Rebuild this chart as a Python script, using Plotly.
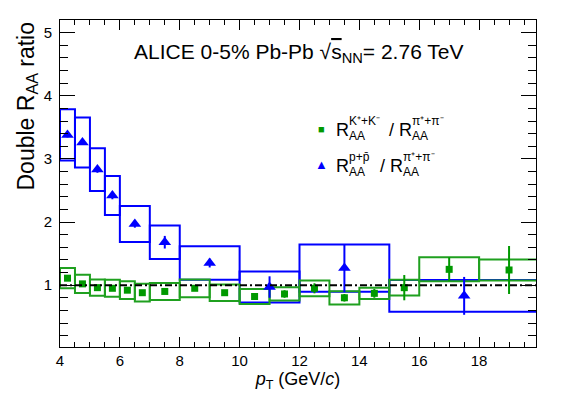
import plotly.graph_objects as go

# K/pi double R_AA ratio
k_pt = [4.25, 4.75, 5.25, 5.75, 6.25, 6.75, 7.5, 8.5, 9.5, 10.5, 11.5, 12.5, 13.5, 14.5, 15.5, 17, 19]
k_lo = [4, 4.5, 5, 5.5, 6, 6.5, 7, 8, 9, 10, 11, 12, 13, 14, 15, 16, 18]
k_hi = [4.5, 5, 5.5, 6, 6.5, 7, 8, 9, 10, 11, 12, 13, 14, 15, 16, 18, 20]
k_val = [1.11, 1.02, 0.96, 0.95, 0.92, 0.88, 0.90, 0.95, 0.88, 0.82, 0.86, 0.95, 0.80, 0.87, 0.96, 1.25, 1.24]
k_stat = [0.02, 0.02, 0.02, 0.02, 0.02, 0.02, 0.03, 0.03, 0.03, 0.04, 0.06, 0.08, 0.06, 0.07, 0.2, 0.19, 0.38]
k_sys = [0.16, 0.145, 0.13, 0.135, 0.14, 0.14, 0.135, 0.14, 0.13, 0.12, 0.105, 0.125, 0.105, 0.09, 0.125, 0.19, 0.165]

# p/pi double R_AA ratio
p_pt = [4.25, 4.75, 5.25, 5.75, 6.5, 7.5, 9, 11, 13.5, 17.5]
p_lo = [4, 4.5, 5, 5.5, 6, 7, 8, 10, 12, 15]
p_hi = [4.5, 5, 5.5, 6, 7, 8, 10, 12, 15, 20]
p_val = [3.38, 3.26, 2.83, 2.42, 1.97, 1.68, 1.35, 0.97, 1.27, 0.83]
p_stat = [0.04, 0.04, 0.05, 0.06, 0.06, 0.1, 0.07, 0.17, 0.38, 0.3]
p_sys = [0.405, 0.395, 0.34, 0.31, 0.285, 0.265, 0.265, 0.245, 0.375, 0.25]

x_ticks = [4, 6, 8, 10, 12, 14, 16, 18]
y_ticks = [1, 2, 3, 4, 5]

BLUE = "#0000ff"
GREEN = "#009900"
GREEN_BOX = "#1fa01f"
FONT = "Liberation Sans, Arial, sans-serif"

W, H = 581, 396
OFF = 8  # page body margin
L, R, T, B = 52, 53, 12, 57


def px(x, y):
    # on-screen pixel position -> paper coordinates
    x, y = x - OFF, y - OFF
    return (x - L) / (W - L - R), (H - B - y) / (H - T - B)


fig = go.Figure()

for lo, hi, v, s in zip(p_lo, p_hi, p_val, p_sys):
    fig.add_shape(type="rect", xref="x", yref="y", x0=lo, x1=hi, y0=v - s, y1=v + s,
                  line=dict(color=BLUE, width=2), layer="below")
for lo, hi, v, s in zip(k_lo, k_hi, k_val, k_sys):
    fig.add_shape(type="rect", xref="x", yref="y", x0=lo, x1=hi, y0=v - s, y1=v + s,
                  line=dict(color=GREEN_BOX, width=2), layer="below")

fig.add_trace(go.Scatter(x=p_pt, y=p_val, mode="markers",
                         marker=dict(symbol="triangle-up", size=11, color=BLUE),
                         error_y=dict(type="data", array=p_stat, color=BLUE, thickness=2, width=0),
                         showlegend=False))
fig.add_trace(go.Scatter(x=k_pt, y=k_val, mode="markers",
                         marker=dict(symbol="square", size=7, color=GREEN),
                         error_y=dict(type="data", array=k_stat, color=GREEN, thickness=2, width=0),
                         showlegend=False))

# unity reference line
fig.add_shape(type="line", xref="paper", yref="y", x0=0, x1=1, y0=1, y1=1,
              line=dict(color="black", width=2, dash="7px,3px,2px,3px"), layer="above")

annotations = []


def add_text(x, y, text, size, xanchor="left", color="black"):
    xp, yp = px(x, y)
    annotations.append(dict(x=xp, y=yp, xref="paper", yref="paper", text=text, showarrow=False,
                            xanchor=xanchor, yanchor="middle", font=dict(size=size, color=color, family=FONT)))


add_text(298, 53, "ALICE 0-5% Pb-Pb √<span style='text-decoration:overline'>s</span><sub>NN</sub>= 2.76 TeV",
         21, xanchor="center")


def ratio_entry(x, y, num, den, gap):
    add_text(x, y, "R", 18)
    add_text(x + 13, y - 9, num, 12)
    add_text(x + 13, y + 6, "AA", 12)
    x2 = x + 13 + gap
    add_text(x2, y, "/", 18)
    add_text(x2 + 10, y, "R", 18)
    add_text(x2 + 23, y - 9, den, 12)
    add_text(x2 + 23, y + 6, "AA", 12)


add_text(321, 129, "■", 11, xanchor="center", color=GREEN)
ratio_entry(334, 130, "K⁺+K⁻", "π⁺+π⁻", 40)
add_text(321, 164, "▲", 13, xanchor="center", color=BLUE)
ratio_entry(334, 166, "p+p̄", "π⁺+π⁻", 31)

# y title, ROOT style aligned to the top of the axis
annotations.append(dict(x=px(27, 0)[0], y=1, xref="paper", yref="paper", text="Double R<sub>AA</sub> ratio",
                        textangle=-90, showarrow=False, xanchor="center", yanchor="top",
                        font=dict(size=23, color="black", family=FONT)))

fig.update_layout(
    width=W, height=H,
    margin=dict(l=L, r=R, t=T, b=B, autoexpand=False),
    paper_bgcolor="white", plot_bgcolor="white",
    font=dict(family=FONT, color="black"),
    annotations=annotations,
    showlegend=False,
)

fig.update_xaxes(range=[4, 19.9], tickvals=x_ticks, ticks="inside", ticklen=10, tickwidth=1,
                 tickcolor="black", showline=True, linecolor="black", linewidth=1, mirror="allticks",
                 showgrid=False, zeroline=False, tickfont=dict(size=15),
                 minor=dict(dtick=0.5, tick0=0, ticks="inside", ticklen=5, tickcolor="black", showgrid=False),
                 title=dict(text="<i>p</i><sub>T</sub> (GeV/<i>c</i>)", font=dict(size=18), standoff=3))
fig.update_yaxes(range=[0.02, 5.2], tickvals=y_ticks, ticks="inside", ticklen=15, tickwidth=1,
                 tickcolor="black", showline=True, linecolor="black", linewidth=1, mirror="allticks",
                 showgrid=False, zeroline=False, tickfont=dict(size=15), ticklabelstandoff=4,
                 minor=dict(dtick=0.2, tick0=0, ticks="inside", ticklen=8, tickcolor="black", showgrid=False))

fig.write_html("out.html")
